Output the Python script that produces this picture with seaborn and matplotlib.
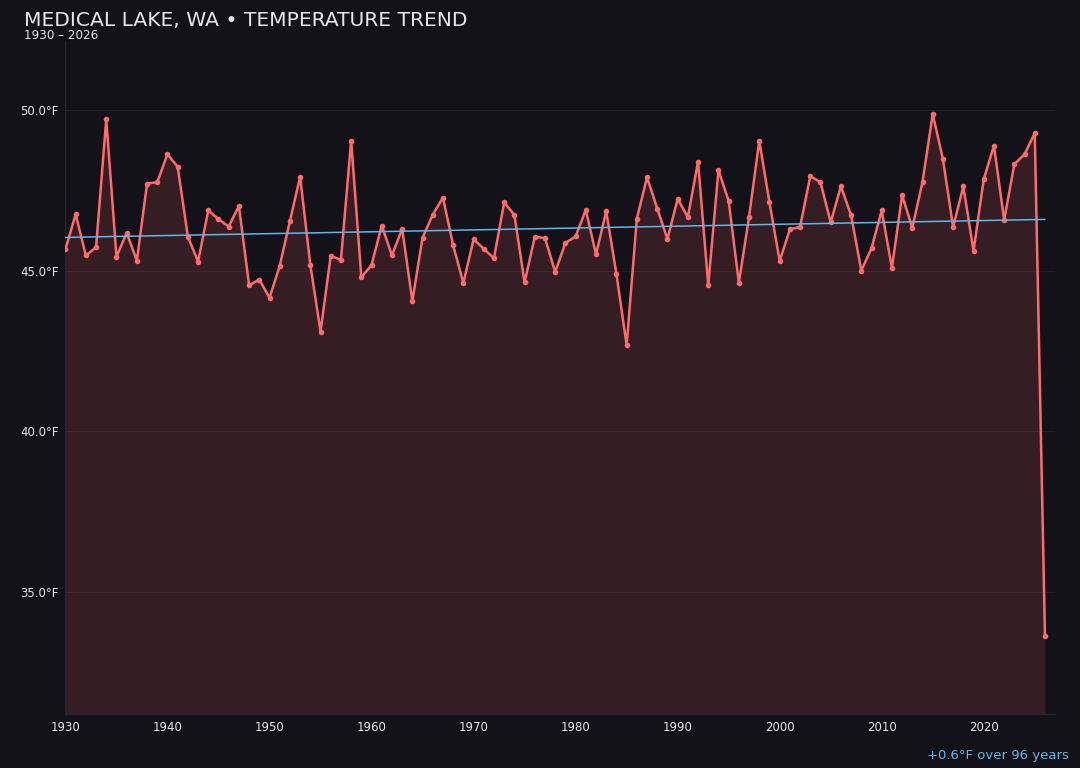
import numpy as np
import pandas as pd
import seaborn as sns
import matplotlib.pyplot as plt
from matplotlib.ticker import FuncFormatter

# annual mean temperature (°F)
years = list(range(1930, 2027))
temps = [
    45.67, 46.76, 45.48, 45.73, 49.72, 45.44, 46.18, 45.32, 47.72, 47.76,
    48.63, 48.24, 46.06, 45.29, 46.88, 46.61, 46.38, 47.02, 44.55, 44.73,
    44.16, 45.15, 46.55, 47.93, 45.19, 43.11, 45.47, 45.34, 49.05, 44.80,
    45.18, 46.41, 45.48, 46.31, 44.06, 46.03, 46.75, 47.28, 45.79, 44.62,
    45.98, 45.69, 45.39, 47.13, 46.74, 44.64, 46.06, 46.02, 44.96, 45.87,
    46.07, 46.90, 45.51, 46.86, 44.90, 42.69, 46.62, 47.91, 46.94, 45.99,
    47.24, 46.67, 48.40, 44.55, 48.13, 47.18, 44.63, 46.68, 49.05, 47.13,
    45.31, 46.29, 46.37, 47.95, 47.76, 46.51, 47.63, 46.73, 45.01, 45.70,
    46.88, 45.09, 47.35, 46.34, 47.77, 49.88, 48.48, 46.36, 47.63, 45.62,
    47.85, 48.90, 46.58, 48.32, 48.63, 49.29, 33.64,
]

title = "MEDICAL LAKE, WA • TEMPERATURE TREND"
subtitle = "1930 – 2026"

BG = "#131218"
LINE = "#ff6b6b"
TREND = "#5cb8ec"
TEXT = "#e6e6ea"

df = pd.DataFrame({"year": years, "temp": temps})

# linear trend over all years
slope, intercept = np.polyfit(df["year"], df["temp"], 1)
trend_x = np.array([years[0], years[-1]])
trend_y = slope * trend_x + intercept
span = years[-1] - years[0]

sns.set_theme(style="dark")
plt.rcParams["font.family"] = ["DejaVu Sans"]

fig = plt.figure(figsize=(10.8, 7.68), dpi=100, facecolor=BG)
ax = fig.add_axes([0.0606, 0.0703, 0.9164, 0.876])
ax.set_facecolor(BG)

ylo, yhi = 31.2, 52.15
ax.fill_between(df["year"], df["temp"], ylo, color=LINE, alpha=0.14, linewidth=0, zorder=1)
sns.lineplot(data=df, x="year", y="temp", ax=ax, color=LINE, linewidth=1.8,
             marker="o", markersize=4, markeredgewidth=0, zorder=3)
ax.plot(trend_x, trend_y, color=TREND, linewidth=1.1, zorder=4)

ax.set_xlim(1930, 2027)
ax.set_ylim(ylo, yhi)
ax.set_xticks(range(1930, 2021, 10))
ax.set_yticks([35, 40, 45, 50])
ax.yaxis.set_major_formatter(FuncFormatter(lambda v, p: f"{v:.1f}°F"))
ax.set_xlabel("")
ax.set_ylabel("")
ax.tick_params(colors="#2c2b33", labelcolor=TEXT, labelsize=8.5, length=2, width=0.8, pad=3)
ax.grid(axis="y", color="#ffffff", alpha=0.05, linewidth=0.8)
ax.grid(axis="x", visible=False)
for side in ["top", "right"]:
    ax.spines[side].set_visible(False)
for side in ["left", "bottom"]:
    ax.spines[side].set_color("#24232b")
    ax.spines[side].set_linewidth(1)

fig.text(0.022, 0.973, title, color=TEXT, fontsize=14.6, ha="left", va="center")
fig.text(0.022, 0.954, subtitle, color=TEXT, fontsize=8.6, ha="left", va="center")
fig.text(0.99, 0.008, f"{slope * span:+.1f}°F over {span} years", color=TREND,
         fontsize=9.5, ha="right", va="bottom")

fig.savefig("out.png", dpi=100, facecolor=BG)
